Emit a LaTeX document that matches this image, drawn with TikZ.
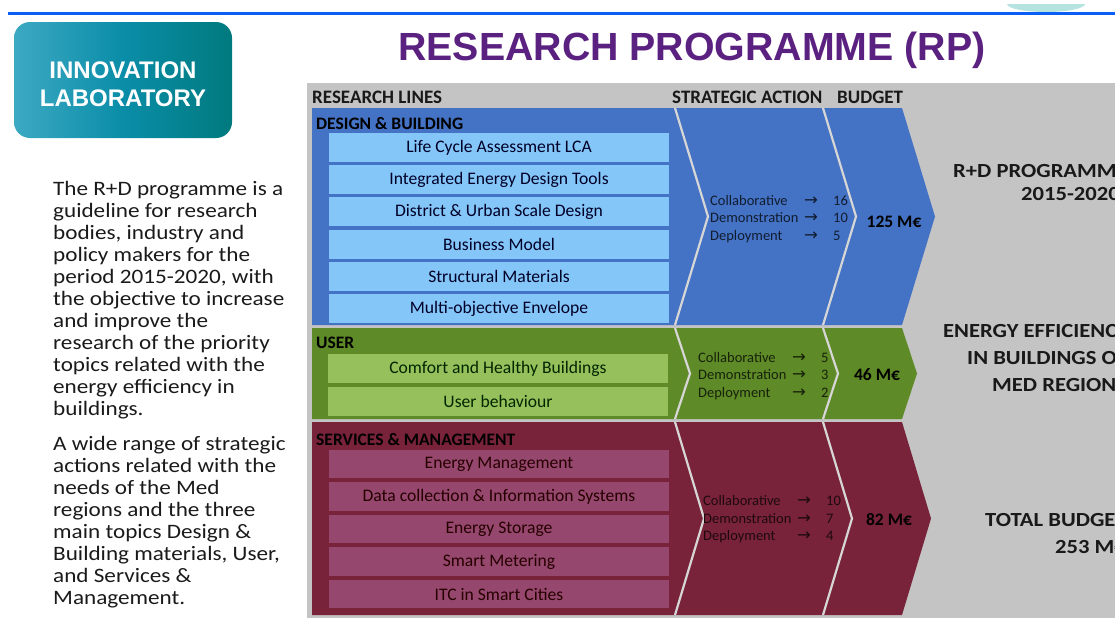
\documentclass[tikz,border=0pt]{standalone}
\usepackage{fontspec}
\setmainfont{Carlito}
\newfontfamily\arial{Liberation Sans}
\newfontfamily\widefont{Carlito}[FakeStretch=1.13]
\newfontfamily\arrowfont{DejaVu Sans}
\definecolor{panelgray}{HTML}{C4C4C4}
\definecolor{rowblue}{HTML}{4472C4}
\definecolor{boxblue}{HTML}{85C6F9}
\definecolor{rowgreen}{HTML}{5E8A27}
\definecolor{boxgreen}{HTML}{96C05B}
\definecolor{rowred}{HTML}{78233A}
\definecolor{boxred}{HTML}{95476D}
\definecolor{sepgray}{HTML}{D6D6D6}
\definecolor{titlepurple}{HTML}{5B2181}
\definecolor{linkblue}{HTML}{0A5EF5}
\definecolor{tealL}{HTML}{3DA9C3}
\definecolor{tealM}{HTML}{0A8DA8}
\definecolor{tealR}{HTML}{007A7E}
\definecolor{paleteal}{HTML}{B5E4E0}
\definecolor{bodytext}{HTML}{1A1A1A}
\newcommand\saline[2]{\makebox[94pt][l]{#1}\makebox[29pt][l]{{\arrowfont\fontsize{16.5}{14}\selectfont →}}#2}
\newcommand\satab[3]{\begin{tabular}[t]{@{}l@{}}\saline{Collaborative}{#1}\\\saline{Demonstration}{#2}\\\saline{Deployment}{#3}\end{tabular}}
\begin{document}
\begin{tikzpicture}[x=1pt,y=-1pt,
  innerbox/.style={minimum width=340pt, minimum height=29pt, inner sep=0pt, font=\fontsize{17.6}{20}\selectfont},
  rowlabel/.style={anchor=base west, inner sep=0pt, font=\bfseries\fontsize{17.5}{20}\selectfont, text=black},
  header/.style={anchor=base west, inner sep=0pt, font=\bfseries\fontsize{19}{20}\selectfont, text=black!90},
  satext/.style={anchor=base west, inner sep=0pt, font=\fontsize{14.5}{17.5}\selectfont},
  budget/.style={anchor=base, inner sep=0pt, font=\bfseries\fontsize{17.5}{20}\selectfont, text=black},
  sidetext/.style={anchor=base west, inner sep=0pt, font=\widefont\bfseries\fontsize{20}{24}\selectfont, text=black!90},
  labtext/.style={anchor=base, inner sep=0pt, font=\arial\bfseries\fontsize{24}{28}\selectfont, text=white},
  para/.style={anchor=base west, inner sep=0pt, font=\widefont\fontsize{20.5}{22}\selectfont, text=bodytext},
  sep/.style={draw=sepgray, line width=2.2pt, line join=miter}
]
\useasboundingbox (0,0) rectangle (1115,627);
% top rule and ornament
\fill[paleteal] (1007,4) arc[start angle=180, end angle=0, x radius=39, y radius=8] -- cycle;
\draw[linkblue, line width=3pt] (8,13) -- (1115,13);
% innovation laboratory
\node[rounded corners=16pt, left color=tealL, right color=tealR, middle color=tealM, minimum width=218pt, minimum height=116pt, inner sep=0pt] (lab) at (123,80) {};
\node[labtext] (lab1) at (123,78) {INNOVATION};
\node[labtext] (lab2) at (123,106) {LABORATORY};
% title
\node[anchor=base, inner sep=0pt, font=\arial\bfseries\fontsize{39.3}{48}\selectfont, text=titlepurple] (title) at (692,60) {RESEARCH PROGRAMME (RP)};
% left text
\node[para] (p1) at (53,195) {\begin{tabular}[t]{@{}l@{}}The R+D programme is a\\guideline for research\\bodies, industry and\\policy makers for the\\period 2015-2020, with\\the objective to increase\\and improve the\\research of the priority\\topics related with the\\energy efficiency in\\buildings.\end{tabular}};
\node[para] (p2) at (53,450) {\begin{tabular}[t]{@{}l@{}}A wide range of strategic\\actions related with the\\needs of the Med\\regions and the three\\main topics Design \&\\Building materials, User,\\and Services \&\\Management.\end{tabular}};
% panel
\fill[panelgray] (307,83) rectangle (1115,618);
\node[header] (h1) at (312,103) {RESEARCH LINES};
\node[header] (h2) at (672,103) {STRATEGIC ACTION};
\node[header] (h3) at (837,103) {BUDGET};
% row 1 blue
\fill[rowblue] (312,108) -- (902,108) -- (935,216.5) -- (902,325) -- (312,325) -- cycle;
\draw[sep] (675,108) -- (708,216.5) -- (675,325);
\draw[sep] (823,108) -- (856,216.5) -- (823,325);
\node[rowlabel] (l1) at (316,129) {DESIGN \& BUILDING};
\foreach \t [count=\i] in {Life Cycle Assessment LCA, Integrated Energy Design Tools, District \& Urban Scale Design, Business Model, Structural Materials, Multi-objective Envelope}
  \node[innerbox, fill=boxblue, text=black!85!blue] (b\i) at (499,{147.5+32.2*(\i-1)}) {\t};
\node[satext, text=black!75!rowblue] (sa1) at (710,205) {\satab{16}{10}{5}};
\node[budget] (bu1) at (894,227) {125 M€};
% row 2 green
\fill[rowgreen] (312,328) -- (902,328) -- (917,373.5) -- (902,419) -- (312,419) -- cycle;
\draw[sep] (675,328) -- (690,373.5) -- (675,419);
\draw[sep] (823,328) -- (838,373.5) -- (823,419);
\node[rowlabel] (l2) at (316,348) {USER};
\node[innerbox, fill=boxgreen, text=black!85!green] (g1) at (498,368.5) {Comfort and Healthy Buildings};
\node[innerbox, fill=boxgreen, text=black!85!green] (g2) at (498,401) {User behaviour};
\node[satext, text=black!75!rowgreen] (sa2) at (698,362) {\satab{5}{3}{2}};
\node[budget] (bu2) at (877,380) {46 M€};
% row 3 red
\fill[rowred] (312,422) -- (902,422) -- (931,518.5) -- (902,615) -- (312,615) -- cycle;
\draw[sep] (675,422) -- (704,518.5) -- (675,615);
\draw[sep] (823,422) -- (852,518.5) -- (823,615);
\node[rowlabel] (l3) at (316,445) {SERVICES \& MANAGEMENT};
\foreach \t [count=\i] in {Energy Management, Data collection \& Information Systems, Energy Storage, Smart Metering, ITC in Smart Cities}
  \node[innerbox, minimum height=28.5pt, fill=boxred, text=black!85!red] (r\i) at (499,{464+32.5*(\i-1)}) {\t};
\node[satext, text=black!75!rowred] (sa3) at (703,505.5) {\satab{10}{7}{4}};
\node[budget] (bu3) at (889,525) {82 M€};
% right side texts
\node[sidetext] (rd1) at (953,177) {R+D PROGRAMME};
\node[sidetext] (rd2) at (1021,200) {2015-2020};
\node[sidetext] (ee1) at (943,337) {ENERGY EFFICIENCY};
\node[sidetext] (ee2) at (967,364) {IN BUILDINGS OF};
\node[sidetext] (ee3) at (992,391) {MED REGIONS};
\node[sidetext] (tb1) at (985,526) {TOTAL BUDGET};
\node[sidetext] (tb2) at (1055,553) {253 M€};
\end{tikzpicture}
\end{document}
